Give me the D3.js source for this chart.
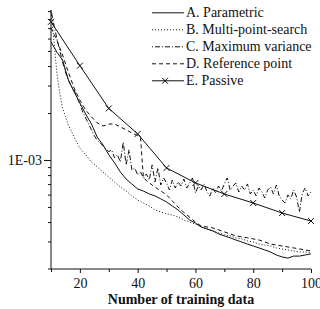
<!DOCTYPE html>
<html>
<head>
<meta charset="utf-8">
<script src="https://cdn.jsdelivr.net/npm/d3@7"></script>
<style>
  body { margin: 0; background: #fff; }
  svg { display: block; font-family: "Liberation Serif", "Times New Roman", serif; }
</style>
</head>
<body>
<svg id="chart" width="320" height="309"></svg>
<script>
// ---- data ----
const xA = [10,12,14,16,18,20,22,24,26,28,30,32,34,36,38,40,42,44,46,48,50,52,54,56,58,60,62,64,66,68,70,72,74,76,78,80,82,84,86,88,90,92,94,96,98,100];
const seriesA = [5.73e-3,4.92e-3,4.38e-3,3.26e-3,2.73e-3,2.32e-3,1.97e-3,1.70e-3,1.40e-3,1.25e-3,1.08e-3,9.58e-4,8.38e-4,7.55e-4,7.01e-4,6.52e-4,6.32e-4,6.06e-4,5.88e-4,5.63e-4,5.38e-4,5.07e-4,4.78e-4,4.44e-4,4.12e-4,3.94e-4,3.72e-4,3.61e-4,3.51e-4,3.36e-4,3.26e-4,3.17e-4,3.07e-4,2.98e-4,2.89e-4,2.81e-4,2.73e-4,2.65e-4,2.57e-4,2.46e-4,2.39e-4,2.35e-4,2.42e-4,2.42e-4,2.46e-4,2.50e-4];

const xB = [10,11,12,13,14,16,18,20,22,24,26,28,30,32,34,36,38,40,42,44,46,48,50,52,54,56,58,60,62,64,66,68,70,72,74,76,78,80,82,84,86,88,90,92,94,96,98,100];
const seriesB = [8.89e-3,5.88e-3,3.66e-3,2.69e-3,2.15e-3,1.68e-3,1.40e-3,1.19e-3,1.08e-3,9.71e-4,9.02e-4,8.38e-4,7.78e-4,7.23e-4,6.71e-4,6.33e-4,5.88e-4,5.54e-4,5.30e-4,5.07e-4,4.78e-4,4.64e-4,4.51e-4,4.44e-4,4.31e-4,4.12e-4,4.00e-4,3.88e-4,3.72e-4,3.61e-4,3.51e-4,3.41e-4,3.31e-4,3.26e-4,3.17e-4,3.12e-4,3.03e-4,2.98e-4,2.89e-4,2.85e-4,2.81e-4,2.73e-4,2.69e-4,2.65e-4,2.61e-4,2.57e-4,2.57e-4,2.54e-4];

const xC = [10,11,12,13,14,15,16,17,18,19,20,21,22,23,24,25,26,27,28,29,30,31,32,33,34,35,36,37,38,39,40,41,42,43,44,45,46,47,48,49,50,51,52,53,54,55,56,57,58,59,60,61,62,63,64,65,66,67,68,69,70,71,72,73,74,75,76,77,78,79,80,81,82,83,84,85,86,87,88,89,90,91,92,93,94,95,96,97,98,99,100];
const seriesC = [9.15e-3,7.33e-3,6.05e-3,5.07e-3,4.25e-3,3.66e-3,3.26e-3,2.98e-3,2.81e-3,2.53e-3,2.28e-3,2.03e-3,1.86e-3,1.70e-3,1.56e-3,1.43e-3,1.34e-3,1.29e-3,1.23e-3,1.18e-3,1.13e-3,1.16e-3,1.03e-3,1.08e-3,9.71e-4,1.30e-3,9.29e-4,1.16e-3,8.63e-4,8.89e-4,8.01e-4,8.38e-4,7.67e-4,8.13e-4,7.44e-4,9.29e-4,7.23e-4,8.89e-4,6.91e-4,7.67e-4,7.12e-4,6.42e-4,7.44e-4,6.61e-4,7.23e-4,6.81e-4,7.55e-4,6.61e-4,7.12e-4,7.67e-4,6.14e-4,6.81e-4,6.42e-4,7.02e-4,6.23e-4,5.88e-4,6.61e-4,6.14e-4,6.81e-4,6.33e-4,7.02e-4,7.67e-4,6.42e-4,6.81e-4,7.12e-4,6.23e-4,6.81e-4,6.42e-4,7.02e-4,6.05e-4,6.42e-4,5.88e-4,6.61e-4,6.23e-4,5.71e-4,6.42e-4,6.71e-4,6.05e-4,6.91e-4,5.88e-4,5.54e-4,5.30e-4,5.97e-4,5.63e-4,6.42e-4,5.79e-4,4.64e-4,6.14e-4,6.61e-4,5.88e-4,6.23e-4];

const xD = [10,12,14,16,18,20,22,24,26,28,30,32,34,36,38,40,41,42,45,50,55,60,62,66,70,74,78,82,86,90,94,98,100];
const seriesD = [7.02e-3,5.88e-3,4.71e-3,3.66e-3,2.89e-3,2.42e-3,2.09e-3,1.89e-3,1.73e-3,1.65e-3,1.70e-3,1.70e-3,1.63e-3,1.56e-3,1.49e-3,1.43e-3,1.38e-3,7.67e-4,6.91e-4,5.97e-4,4.78e-4,4.00e-4,3.77e-4,3.67e-4,3.46e-4,3.26e-4,3.17e-4,3.07e-4,2.89e-4,2.81e-4,2.73e-4,2.65e-4,2.61e-4];

const xE = [10,20,30,40,50,60,70,80,90,100];
const seriesE = [7.69e-3,4.02e-3,2.14e-3,1.47e-3,8.89e-4,7.13e-4,6.05e-4,5.30e-4,4.57e-4,4.06e-4];

const legendLabels = ["A. Parametric","B. Multi-point-search","C. Maximum variance","D. Reference point","E. Passive"];
const xMajorTicks = [20,40,60,80,100];
const xMinorTicks = [10,30,50,70,90];
const yMajorTicks = [1e-3];
const yMinorTicks = [3e-4,4e-4,5e-4,6e-4,7e-4,8e-4,9e-4,2e-3,3e-3,4e-3,5e-3,6e-3,7e-3,8e-3,9e-3];
const xTitle = "Number of training data";

// ---- drawing ----
const svg = d3.select("#chart");
const x = d3.scaleLinear().domain([10,100]).range([51,311]);
const y = d3.scaleLog().domain([2e-4, 9.15e-3]).range([269,10]);

const styles = [
  {dash: null},
  {dash: "1,2"},
  {dash: "1,2,5,2"},
  {dash: "4,3"},
  {dash: null, marker: true}
];
const series = [
  [xA, seriesA],[xB, seriesB],[xC, seriesC],[xD, seriesD],[xE, seriesE]
];

const line = d3.line().x(d => x(d[0])).y(d => y(d[1]));

series.forEach((s, i) => {
  const pts = s[0].map((xv, j) => [xv, s[1][j]]);
  svg.append("path")
    .attr("d", line(pts))
    .attr("fill", "none")
    .attr("stroke", "#111")
    .attr("stroke-width", 1)
    .attr("stroke-dasharray", styles[i].dash);
  if (styles[i].marker) {
    svg.append("g").selectAll("path").data(pts).join("path")
      .attr("d", d => { const cx = x(d[0]), cy = y(d[1]), r = 3;
        return `M${cx-r},${cy-r}L${cx+r},${cy+r}M${cx-r},${cy+r}L${cx+r},${cy-r}`; })
      .attr("stroke", "#111").attr("stroke-width", 1).attr("fill", "none");
  }
});

// axes
const axisColor = "#111";
const gyMinor = svg.append("g").attr("transform", "translate(51,0)")
  .call(d3.axisLeft(y).tickValues(yMinorTicks).tickSize(3).tickFormat("").tickSizeOuter(0));
gyMinor.select(".domain").remove();
const gyMajor = svg.append("g").attr("transform", "translate(51,0)")
  .call(d3.axisLeft(y).tickValues(yMajorTicks).tickSize(7).tickPadding(2).tickFormat(() => "1E-03"));
gyMajor.select(".domain").remove();
gyMajor.selectAll("text").attr("font-size", 14).attr("font-family", "Liberation Serif, serif").attr("fill", "#111");

const gxMinor = svg.append("g").attr("transform", "translate(0,269)")
  .call(d3.axisBottom(x).tickValues(xMinorTicks).tickSize(3).tickFormat(""));
gxMinor.select(".domain").remove();
const gxMajor = svg.append("g").attr("transform", "translate(0,269)")
  .call(d3.axisBottom(x).tickValues(xMajorTicks).tickSize(4).tickPadding(5));
gxMajor.select(".domain").remove();
gxMajor.selectAll("text").attr("font-size", 14).attr("font-family", "Liberation Serif, serif").attr("fill", "#111");
svg.selectAll(".tick line").attr("stroke", axisColor);

svg.append("line").attr("x1", 51).attr("x2", 51).attr("y1", 10).attr("y2", 269).attr("stroke", axisColor);
svg.append("line").attr("x1", 48).attr("x2", 311).attr("y1", 269).attr("y2", 269).attr("stroke", axisColor);

svg.append("text").attr("x", 181).attr("y", 304).attr("text-anchor", "middle")
  .attr("font-size", 14).attr("font-weight", "bold").attr("fill", "#111").text(xTitle);

// legend
const lg = svg.append("g");
legendLabels.forEach((lab, i) => {
  const by = 17.3 + i * 17;
  const ly = by - 4.5;
  lg.append("line").attr("x1", 152).attr("x2", 184).attr("y1", ly).attr("y2", ly)
    .attr("stroke", "#111").attr("stroke-width", 1).attr("stroke-dasharray", styles[i].dash);
  if (styles[i].marker) {
    const cx = 165, r = 3;
    lg.append("path").attr("d", `M${cx-r},${ly-r}L${cx+r},${ly+r}M${cx-r},${ly+r}L${cx+r},${ly-r}`)
      .attr("stroke", "#111").attr("fill", "none");
  }
  lg.append("text").attr("x", 186).attr("y", by).attr("font-size", 14).attr("fill", "#111").text(lab);
});
</script>
</body>
</html>
